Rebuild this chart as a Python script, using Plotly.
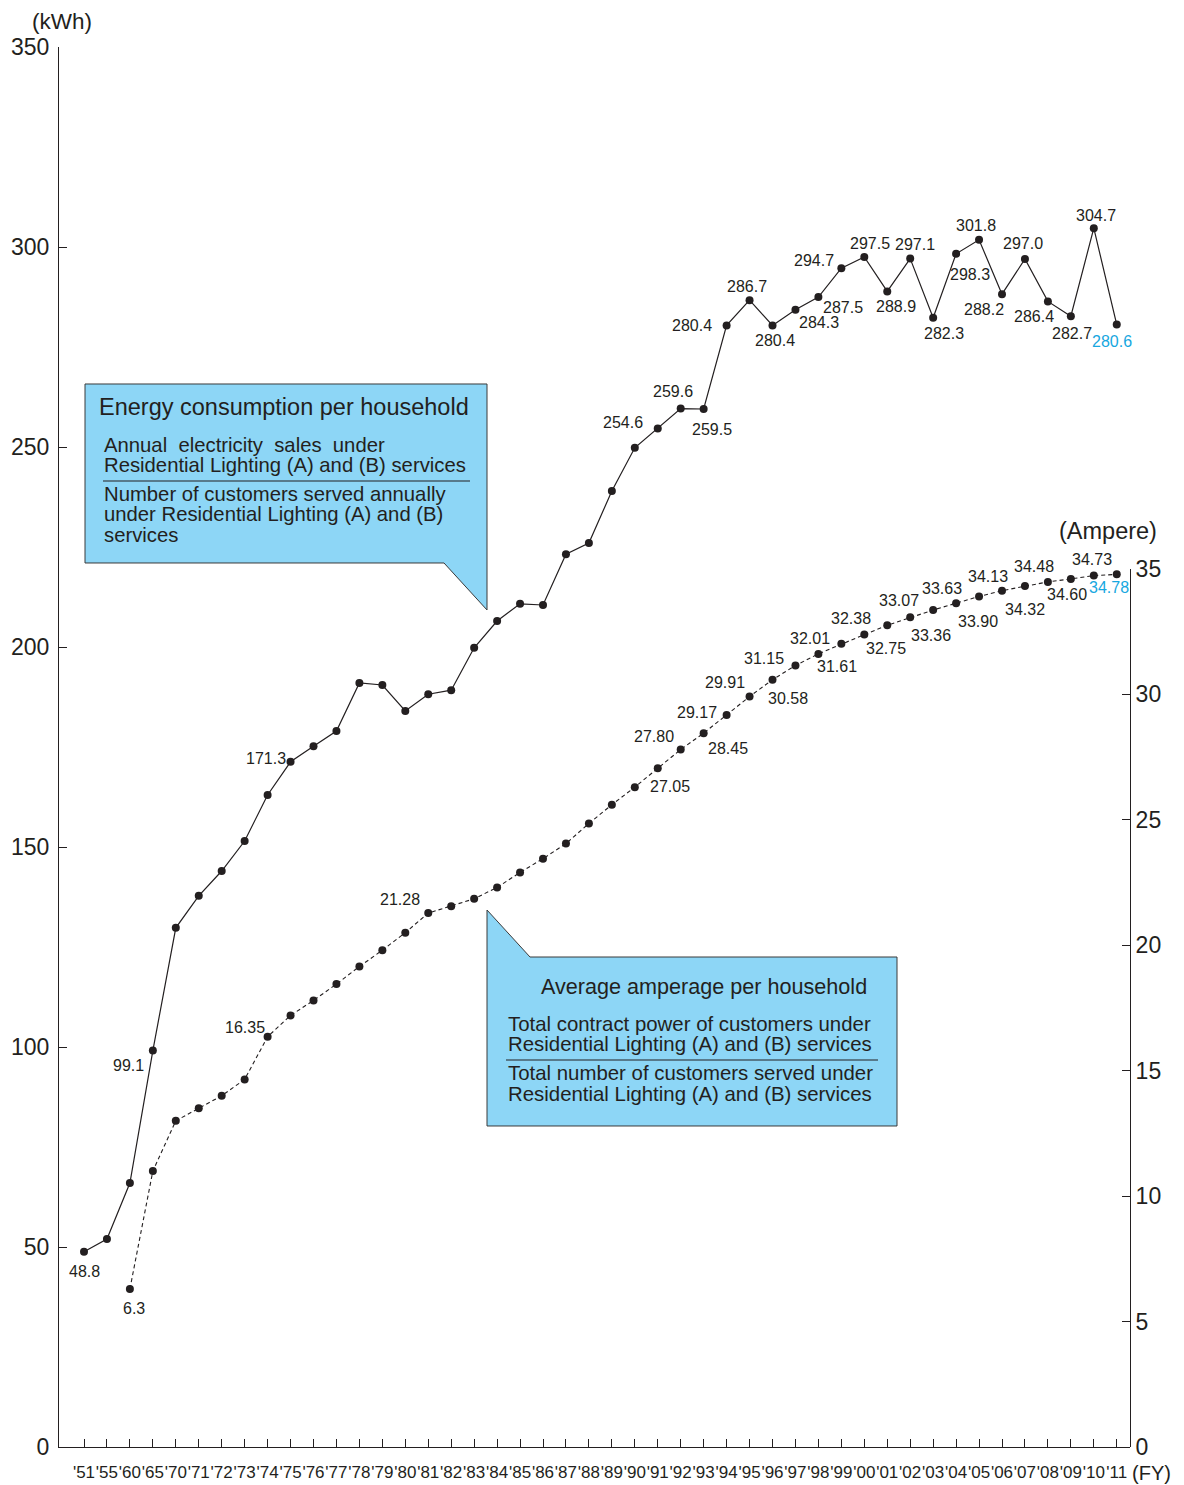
import plotly.graph_objects as go

# ---------------- data ----------------
YEARS = ["'51", "'55", "'60", "'65", "'70", "'71", "'72", "'73", "'74", "'75", "'76", "'77",
         "'78", "'79", "'80", "'81", "'82", "'83", "'84", "'85", "'86", "'87", "'88", "'89",
         "'90", "'91", "'92", "'93", "'94", "'95", "'96", "'97", "'98", "'99", "'00", "'01",
         "'02", "'03", "'04", "'05", "'06", "'07", "'08", "'09", "'10", "'11"]

KWH = [48.8, 52.0, 66.0, 99.1, 129.8, 137.8, 144.0, 151.5, 163.0, 171.3, 175.2, 179.0,
       191.0, 190.5, 184.0, 188.2, 189.2, 199.8, 206.5, 210.8, 210.5, 223.2, 226.0, 239.0,
       249.8, 254.6, 259.6, 259.5, 280.4, 286.7, 280.4, 284.3, 287.5, 294.7, 297.5, 288.9,
       297.1, 282.3, 298.3, 301.8, 288.2, 297.0, 286.4, 282.7, 304.7, 280.6]

AMP = [None, None, 6.3, 11.0, 13.0, 13.5, 14.0, 14.65, 16.35, 17.2, 17.8, 18.45,
       19.15, 19.8, 20.5, 21.28, 21.55, 21.85, 22.3, 22.9, 23.45, 24.05, 24.85, 25.6,
       26.3, 27.05, 27.80, 28.45, 29.17, 29.91, 30.58, 31.15, 31.61, 32.01, 32.38, 32.75,
       33.07, 33.36, 33.63, 33.90, 34.13, 34.32, 34.48, 34.60, 34.73, 34.78]

KWH_TICKS = [0, 50, 100, 150, 200, 250, 300, 350]
AMP_TICKS = [0, 5, 10, 15, 20, 25, 30, 35]

# label placement (index, dx px, dy px downward) - layout only
KWH_LABELS = [(0, 0, 20), (3, -24, 15), (9, -25, -3), (25, -35, -6), (26, -8, -17),
              (27, 8, 20), (28, -35, 0), (29, -3, -14), (30, 2, 15), (31, 24, 13),
              (32, 25, 10), (33, -27, -8), (34, 6, -14), (35, 9, 15), (36, 5, -14),
              (37, 11, 16), (38, 14, 21), (39, -3, -14), (40, -18, 15), (41, -2, -16),
              (42, -14, 15), (43, 1, 17), (44, 2, -13), (45, -5, 17)]
AMP_LABELS = [(2, 4, 20), (8, -23, -9), (15, -28, -14), (25, 12, 18), (26, -27, -13),
              (27, 24, 15), (28, -30, -3), (29, -25, -14), (30, 15, 19), (31, -31, -7),
              (32, 19, 13), (33, -31, -5), (34, -13, -16), (35, -1, 23), (36, -11, -17),
              (37, -2, 25), (38, -14, -15), (39, -1, 25), (40, -14, -14), (41, 0, 24),
              (42, -14, -15), (43, -4, 16), (44, -2, -16), (45, -8, 13)]

# ---------------- style ----------------
FONT = "Liberation Sans, Arial, Helvetica, sans-serif"
INK = "#231f20"
CYAN = "#17a7e0"
BOXFILL = "#8dd6f6"
PAGE_W, PAGE_H = 1184, 1485
BODY = 8                      # default page body margin
X0, X1, Y0, Y1 = 59, 1130, 47, 1447   # plot area in page pixels
PW, PH = X1 - X0, Y1 - Y0
FIG_W, FIG_H = PAGE_W - BODY, PAGE_H - BODY
ML, MT = X0 - BODY, Y0 - BODY
MR = FIG_W - (X1 - BODY)
MB = FIG_H - (Y1 - BODY)
FIRST_CAT_PX, CAT_STEP = 84.0, 22.95   # category spacing on the page


def px(x):
    return (x - X0) / PW


def py(y):
    return (Y1 - y) / PH


fig = go.Figure()

fig.add_trace(go.Scatter(
    x=YEARS, y=KWH, mode="lines+markers", xaxis="x", yaxis="y",
    line=dict(color=INK, width=1.2), marker=dict(color=INK, size=8),
    cliponaxis=False, hoverinfo="skip", showlegend=False))

amp_x = [yr for yr, v in zip(YEARS, AMP) if v is not None]
amp_y = [v for v in AMP if v is not None]
fig.add_trace(go.Scatter(
    x=amp_x, y=amp_y, mode="lines+markers", xaxis="x", yaxis="y2",
    line=dict(color=INK, width=1.1, dash="4px,3px"), marker=dict(color=INK, size=8),
    cliponaxis=False, hoverinfo="skip", showlegend=False))

annotations = []
last = len(YEARS) - 1
for i, dx, dy in KWH_LABELS:
    annotations.append(dict(
        x=YEARS[i], y=KWH[i], xref="x", yref="y", text=f"{KWH[i]:.1f}",
        showarrow=False, xshift=dx, yshift=-dy, xanchor="center", yanchor="middle",
        font=dict(size=16, color=CYAN if i == last else INK, family=FONT)))
for i, dx, dy in AMP_LABELS:
    txt = f"{AMP[i]:.1f}" if i == 2 else f"{AMP[i]:.2f}"
    annotations.append(dict(
        x=YEARS[i], y=AMP[i], xref="x", yref="y2", text=txt,
        showarrow=False, xshift=dx, yshift=-dy, xanchor="center", yanchor="middle",
        font=dict(size=16, color=CYAN if i == last else INK, family=FONT)))


def txt(x, y, s, size, anchor="left", vanchor="middle"):
    annotations.append(dict(
        x=px(x), y=py(y), xref="paper", yref="paper", text=s, showarrow=False,
        xanchor=anchor, yanchor=vanchor, borderpad=0,
        font=dict(size=size, color=INK, family=FONT)))


# axis unit labels
txt(62, 8.5, "(kWh)", 22.5, "center", "top")
txt(1108, 531, "(Ampere)", 23.5, "center")
txt(1151, 1473, "(FY)", 20, "center")

# callout 1 text
txt(98, 407, "Energy consumption per household", 23.5)
txt(103, 445, "Annual\u00a0 electricity\u00a0 sales\u00a0 under", 20.3)
txt(103, 465, "Residential Lighting (A) and (B) services", 20.3)
txt(103, 494, "Number of customers served annually", 20.3)
txt(103, 514, "under Residential Lighting (A) and (B)", 20.3)
txt(103, 535, "services", 20.3)

# callout 2 text
txt(704, 986, "Average amperage per household", 21.6, "center")
txt(507, 1024, "Total contract power of customers under", 20.4)
txt(507, 1044, "Residential Lighting (A) and (B) services", 20.4)
txt(507, 1073, "Total number of customers served under", 20.4)
txt(507, 1094, "Residential Lighting (A) and (B) services", 20.4)


def path(points):
    return "M " + " L ".join(f"{px(a):.5f},{py(b):.5f}" for a, b in points) + " Z"


shapes = [
    dict(type="path", xref="paper", yref="paper", layer="above",
         path=path([(85, 384), (487, 384), (487, 610), (444, 563), (85, 563)]),
         fillcolor=BOXFILL, line=dict(color="#3a3a3a", width=1)),
    dict(type="path", xref="paper", yref="paper", layer="above",
         path=path([(487, 910), (530, 957), (897, 957), (897, 1126), (487, 1126)]),
         fillcolor=BOXFILL, line=dict(color="#3a3a3a", width=1)),
    dict(type="line", xref="paper", yref="paper", layer="above",
         x0=px(103), x1=px(470), y0=py(481), y1=py(481), line=dict(color=INK, width=1)),
    dict(type="line", xref="paper", yref="paper", layer="above",
         x0=px(506), x1=px(878), y0=py(1060), y1=py(1060), line=dict(color=INK, width=1)),
]

x_lo = -(FIRST_CAT_PX - X0) / CAT_STEP
x_hi = (X1 - FIRST_CAT_PX) / CAT_STEP

fig.update_layout(
    width=FIG_W, height=FIG_H,
    margin=dict(l=ML, r=MR, t=MT, b=MB, pad=0, autoexpand=False),
    paper_bgcolor="white", plot_bgcolor="rgba(0,0,0,0)",
    font=dict(family=FONT, color=INK),
    xaxis=dict(type="category", range=[x_lo, x_hi], showgrid=False, zeroline=False,
               showline=True, linecolor=INK, linewidth=1, ticks="inside", ticklen=8,
               tickcolor=INK, tickwidth=1, tickangle=0, tickfont=dict(size=17, color=INK),
               ticklabelstandoff=10, anchor="y", automargin=False),
    yaxis=dict(range=[0, 350], tickvals=KWH_TICKS, showgrid=False, zeroline=False,
               showline=True, linecolor=INK, linewidth=1, ticks="inside", ticklen=8,
               tickcolor=INK, tickwidth=1, tickfont=dict(size=23, color=INK),
               ticklabelstandoff=4, domain=[0, 1], anchor="x", automargin=False),
    yaxis2=dict(range=[0, 35], tickvals=AMP_TICKS, showgrid=False, zeroline=False,
                showline=True, linecolor=INK, linewidth=1, ticks="inside", ticklen=8,
                tickcolor=INK, tickwidth=1, tickfont=dict(size=23, color=INK),
                side="right", anchor="x", domain=[0, (35 * 25.09) / PH], automargin=False),
    annotations=annotations,
    shapes=shapes,
)

fig.write_html("out.html")
